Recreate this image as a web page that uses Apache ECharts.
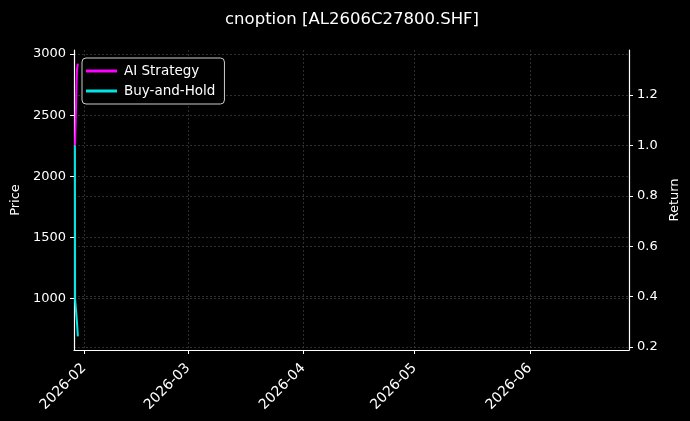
<!DOCTYPE html>
<html>
<head>
  <meta charset='utf-8'>
  <script src="https://cdn.jsdelivr.net/npm/echarts@6/dist/echarts.min.js"></script>
  <title>cnoption</title>
  <style>
    html, body { margin: 0; padding: 0; background: #000; }
  </style>
</head>
<body>
<div id="main" style="width: 690px;height:421px;"></div>
<script type="text/javascript">
  // 数据
  var times = ['2026-01-29 14:00', '2026-01-29 15:00', '2026-01-30 03:00', '2026-01-30 09:00'];
  var aiStrategy = [1.0, 1.01, 1.30, 1.325];
  var buyHold = [1.0, 0.39, 0.30, 0.242];
  var monthTicks = ['2026-02', '2026-03', '2026-04', '2026-05', '2026-06'];
  var priceTicks = [1000, 1500, 2000, 2500, 3000];
  var returnTicks = [0.2, 0.4, 0.6, 0.8, 1.0, 1.2];

  function toTs(s) {
    var p = s.split(/[- :]/);
    return Date.UTC(+p[0], +p[1] - 1, p[2] ? +p[2] : 1, p[3] ? +p[3] : 0, p[4] ? +p[4] : 0);
  }
  var monthTs = monthTicks.map(toTs);
  var font = 'DejaVu Sans';
  var white = '#ffffff';
  var gridLine = { show: true, lineStyle: { color: '#3a3a3a', type: [2, 2], width: 0.8 } };

  var myChart = echarts.init(document.getElementById('main'));
  var option = {
    backgroundColor: '#000',
    animation: false,
    textStyle: { fontFamily: font },
    title: {
      text: 'cnoption [AL2606C27800.SHF]',
      left: 347, top: 6, textAlign: 'center',
      textStyle: { color: white, fontSize: 16.5, fontWeight: 'normal', fontFamily: font }
    },
    legend: {
      orient: 'vertical', left: 82, top: 58,
      backgroundColor: '#000', borderColor: '#cccccc', borderWidth: 1, borderRadius: 4,
      padding: [6, 9, 6, 4], itemGap: 6,
      icon: 'rect', itemWidth: 31, itemHeight: 3,
      textStyle: { color: white, fontSize: 13.5, fontFamily: font, padding: [0, 0, 0, 2] },
      data: ['AI Strategy', 'Buy-and-Hold']
    },
    grid: { left: 74, right: 61, top: 50, bottom: 71, containLabel: false },
    xAxis: {
      type: 'value',
      min: toTs('2026-01-29 08:00'), max: toTs('2026-06-27 17:00'),
      axisLine: { lineStyle: { color: white, width: 1.2 } },
      axisTick: { show: true, customValues: monthTs, length: 4, lineStyle: { color: white } },
      axisLabel: {
        customValues: monthTs, rotate: 45, margin: 16, color: white, fontSize: 14, fontFamily: font,
        formatter: function (v) {
          var d = new Date(v);
          return d.getUTCFullYear() + '-' + String(d.getUTCMonth() + 1).padStart(2, '0');
        }
      },
      splitLine: gridLine
    },
    yAxis: [{
      type: 'value', position: 'left', min: 579, max: 3033,
      name: 'Price', nameLocation: 'middle', nameGap: 48,
      nameTextStyle: { color: white, fontSize: 13, fontFamily: font },
      axisLine: { show: true, lineStyle: { color: white, width: 1.2 } },
      axisTick: { show: true, customValues: priceTicks, length: 4, lineStyle: { color: white } },
      axisLabel: {
        customValues: priceTicks, color: white, fontSize: 13, fontFamily: font,
        formatter: function (v) { return String(v); }
      },
      splitLine: gridLine
    }, {
      type: 'value', position: 'right', min: 0.188, max: 1.379,
      name: 'Return', nameLocation: 'middle', nameGap: 37,
      nameTextStyle: { color: white, fontSize: 13, fontFamily: font },
      axisLine: { show: true, lineStyle: { color: white, width: 1.2 } },
      axisTick: { show: true, customValues: returnTicks, length: 4, lineStyle: { color: white } },
      axisLabel: {
        customValues: returnTicks, color: white, fontSize: 13, fontFamily: font,
        formatter: function (v) { return v.toFixed(1); }
      },
      splitLine: gridLine
    }],
    series: [{
      name: 'AI Strategy', type: 'line', yAxisIndex: 1, showSymbol: false,
      color: '#ff00ff', lineStyle: { width: 2, color: '#ff00ff' },
      data: times.map(function (t, i) { return [toTs(t), aiStrategy[i]]; })
    }, {
      name: 'Buy-and-Hold', type: 'line', yAxisIndex: 1, showSymbol: false,
      color: '#00e5e5', lineStyle: { width: 2, color: '#00e5e5' },
      data: times.map(function (t, i) { return [toTs(t), buyHold[i]]; })
    }]
  };
  myChart.setOption(option);
</script>
</body>
</html>
